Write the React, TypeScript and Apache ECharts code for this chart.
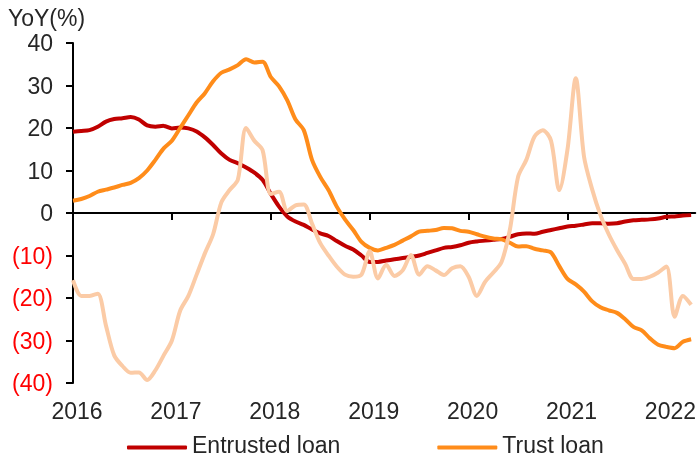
import React, { useEffect, useRef } from 'react';
import * as echarts from 'echarts';

// Month index 0 = Jan 2016
const yearTickValues = [0, 12, 24, 36, 48, 60, 72];
const firstYear = 2016;
const yTickMin = -40;
const yTickMax = 40;

const entrustedLoan = [
  19.1, 19.3, 19.5, 20.3, 21.5, 22.1, 22.3, 22.6, 22.0, 20.6, 20.3, 20.5,
  19.9, 20.1, 19.9, 19.2, 17.8, 16.0, 14.0, 12.5, 11.7, 10.7, 9.5, 7.8,
  4.5, 1.5, -0.8, -2.0, -2.8, -3.9, -4.8, -5.4, -6.6, -7.7, -8.6, -10.0,
  -11.5, -11.5, -11.2, -10.9, -10.6, -10.3, -10.0, -9.4, -8.8, -8.2, -8.0, -7.6,
  -7.0, -6.7, -6.5, -6.3, -6.1, -5.6, -5.0, -4.8, -4.9, -4.4, -4.0, -3.6,
  -3.2, -3.0, -2.7, -2.4, -2.4, -2.5, -2.4, -2.0, -1.7, -1.6, -1.5, -1.3,
  -0.9, -0.8, -0.6, -0.5,
];

const trustLoan = [
  2.9, 3.3, 4.0, 5.0, 5.5, 6.0, 6.6, 7.1, 8.2, 10.0, 12.5, 15.2,
  17.0, 20.0, 23.0, 26.0, 28.2, 31.0, 33.0, 33.8, 34.8, 36.2, 35.4, 35.6,
  32.0, 29.8, 26.5, 22.0, 19.5, 12.5, 8.5, 5.4, 1.5, -1.5, -4.0, -6.8,
  -8.2, -8.8, -8.2, -7.5, -6.5, -5.5, -4.4, -4.2, -4.0, -3.5, -3.6, -4.2,
  -4.4, -5.0, -5.6, -6.0, -6.2, -7.0, -7.9, -7.8, -8.4, -8.8, -9.3, -12.5,
  -15.5, -16.8, -18.5, -20.8, -22.2, -22.9, -23.5, -25.0, -26.8, -27.6, -29.5, -31.0,
  -31.5, -31.8, -30.3, -29.7,
];

const thirdSeries = [
  -15.8, -19.5, -19.5, -19.0, -26.5, -33.5, -36.0, -37.6, -37.5, -39.3, -37.0, -33.5,
  -30.0, -23.0, -19.5, -14.5, -9.5, -5.0, 2.5, 5.4, 7.8, 20.0, 17.0, 14.8,
  4.5, 5.0, 0.5, 1.8, 2.0, -2.5, -7.1, -10.0, -12.6, -14.5, -15.0, -14.5,
  -9.0, -15.4, -12.2, -14.8, -13.5, -9.9, -14.5, -12.5, -13.5, -14.6, -13.0, -12.5,
  -15.0, -19.5, -16.2, -14.0, -11.5, -4.0, 8.5, 12.5, 18.0, 19.5, 17.0, 5.4,
  15.0, 31.7, 13.3, 5.5, -0.5, -5.0, -8.7, -12.0, -15.5, -15.5, -15.0, -14.0,
  -12.6, -24.4, -19.5, -21.6,
];

const FONT = '"Liberation Sans", Arial, sans-serif';
const TEXT = '#262626';

export default function App() {
  const ref = useRef<HTMLDivElement>(null);

  useEffect(() => {
    if (!ref.current) return;
    const chart = echarts.init(ref.current, null, { renderer: 'svg' });
    const toPairs = (arr: number[]) => arr.map((v, i) => [i, v]);

    chart.setOption({
      animation: false,
      textStyle: { fontFamily: FONT },
      grid: { left: 73, right: 2, top: 43, bottom: 78, containLabel: false },
      graphic: [
        {
          type: 'text',
          left: 8,
          top: 6,
          style: { text: 'YoY(%)', fontSize: 23, fill: TEXT, fontFamily: FONT },
        },
      ],
      legend: {
        left: 122,
        top: 428,
        itemWidth: 60,
        itemHeight: 4,
        icon: 'roundRect',
        itemGap: 97,
        data: ['Entrusted loan', 'Trust loan'],
        formatter: (name: string) => `{t|${name}}`,
        textStyle: {
          fontSize: 23,
          color: TEXT,
          fontFamily: FONT,
          rich: {
            t: { fontSize: 23, color: TEXT, fontFamily: FONT, padding: [0, 0, 6, 0] },
          },
        },
      },
      xAxis: [
        {
          type: 'value',
          min: 0,
          max: 75.5,
          position: 'bottom',
          axisLine: { show: true, onZero: true, lineStyle: { color: '#000', width: 2 } },
          axisTick: {
            show: true,
            length: 7,
            customValues: yearTickValues,
            lineStyle: { color: '#000', width: 2 },
          },
          axisLabel: { show: false },
          splitLine: { show: false },
        },
        {
          type: 'value',
          min: 0,
          max: 75.5,
          position: 'bottom',
          axisLine: { show: false, onZero: false },
          axisTick: { show: false },
          splitLine: { show: false },
          axisLabel: {
            show: true,
            customValues: yearTickValues,
            formatter: (v: number) => String(firstYear + Math.round(v / 12)),
            fontSize: 23,
            color: TEXT,
            margin: 16,
            padding: [0, 0, 0, 8],
            fontFamily: FONT,
          },
        },
      ],
      yAxis: {
        type: 'value',
        min: yTickMin,
        max: yTickMax,
        interval: 10,
        axisLine: { show: true, onZero: false, lineStyle: { color: '#000', width: 2 } },
        axisTick: { show: true, length: 7, lineStyle: { color: '#000', width: 2 } },
        splitLine: { show: false },
        axisLabel: {
          fontSize: 23,
          margin: 20,
          fontFamily: FONT,
          formatter: (v: number) => (v < 0 ? `(${-v})` : String(v)),
          color: (v: any) => (Number(v) < 0 ? '#FF0000' : TEXT),
        },
      },
      series: [
        {
          name: 'Entrusted loan',
          type: 'line',
          xAxisIndex: 0,
          data: toPairs(entrustedLoan),
          showSymbol: false,
          symbol: 'none',
          smooth: 0.3,
          lineStyle: { color: '#C00000', width: 4 },
          itemStyle: { color: '#C00000' },
          z: 3,
        },
        {
          name: 'Trust loan',
          type: 'line',
          xAxisIndex: 0,
          data: toPairs(trustLoan),
          showSymbol: false,
          symbol: 'none',
          smooth: 0.3,
          lineStyle: { color: '#FF8C1A', width: 4 },
          itemStyle: { color: '#FF8C1A' },
          z: 4,
        },
        {
          name: 'Other',
          type: 'line',
          xAxisIndex: 0,
          data: toPairs(thirdSeries),
          showSymbol: false,
          symbol: 'none',
          smooth: 0.3,
          lineStyle: { color: '#FBCBA6', width: 4 },
          itemStyle: { color: '#FBCBA6' },
          z: 5,
        },
      ],
    });

    return () => chart.dispose();
  }, []);

  return (
    <div
      ref={ref}
      style={{ position: 'fixed', left: 0, top: 0, width: 699, height: 461 }}
    />
  );
}
